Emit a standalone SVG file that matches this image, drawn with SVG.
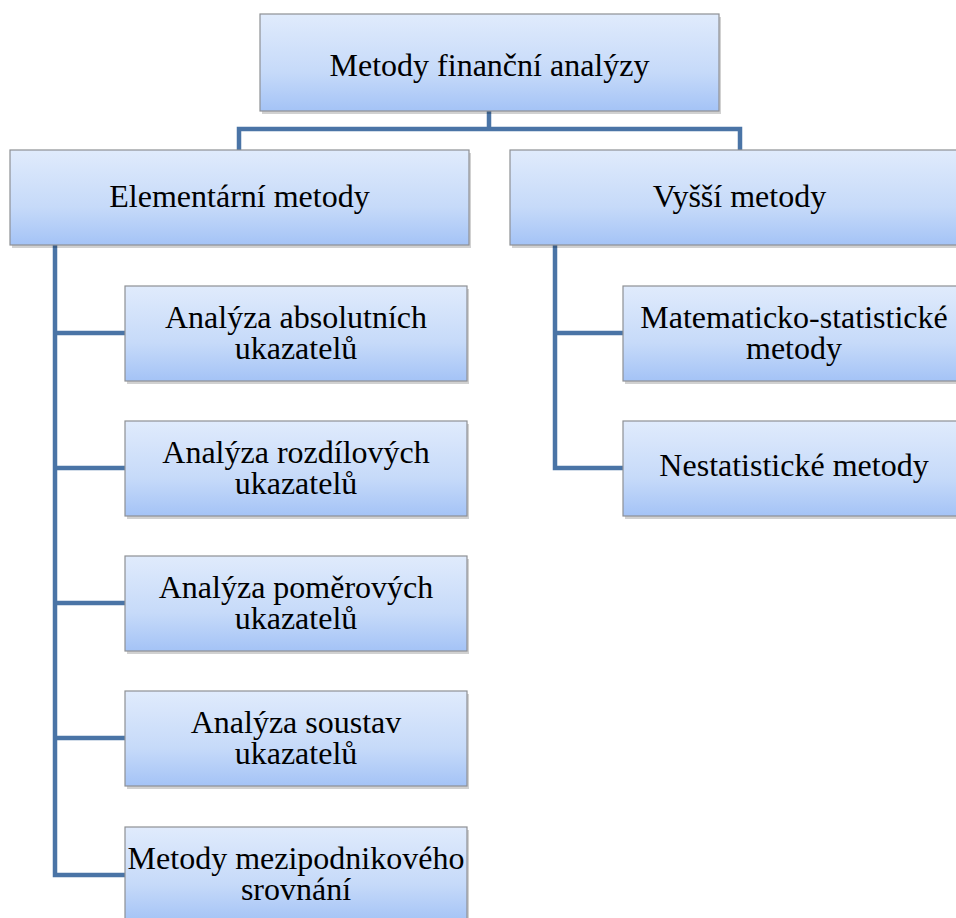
<svg xmlns="http://www.w3.org/2000/svg" width="956" height="918" viewBox="0 0 956 918">
<defs>
<linearGradient id="g" x1="0" y1="0" x2="0" y2="1">
<stop offset="0" stop-color="#e0ebfc"/>
<stop offset="0.6" stop-color="#c6daf9"/>
<stop offset="1" stop-color="#a4c3f6"/>
</linearGradient>
</defs>
<g id="connectors" fill="none" stroke="#4a74a6" stroke-width="4.5">
<path d="M489,111 V129 M239,150 V129 H740 V150"/>
<path d="M55,245 V875 H125 M55,333 H125 M55,468 H125 M55,603 H125 M55,738 H125"/>
<path d="M555,245 V468 H623 M555,333 H623"/>
</g>
<g id="shadows" fill="#000" fill-opacity="0.18">
<rect x="262" y="17" width="459" height="97"/>
<rect x="12" y="153" width="459" height="95"/>
<rect x="512" y="153" width="459" height="95"/>
<rect x="127" y="289" width="342" height="95"/>
<rect x="127" y="424" width="342" height="95"/>
<rect x="127" y="559" width="342" height="95"/>
<rect x="127" y="694" width="342" height="95"/>
<rect x="127" y="830" width="342" height="95"/>
<rect x="625" y="289" width="342" height="95"/>
<rect x="625" y="424" width="342" height="95"/>
</g>
<g id="nodes" style="font-family:'Liberation Serif','Times New Roman',serif" font-size="32" text-anchor="middle">
<g id="n0"><rect fill="url(#g)" stroke="#8e9094" stroke-width="1.2" x="260" y="14" width="459" height="97"/><text x="489.5" y="76">Metody finanční analýzy</text></g>
<g id="n1"><rect fill="url(#g)" stroke="#8e9094" stroke-width="1.2" x="10" y="150" width="459" height="95"/><text x="239.5" y="207">Elementární metody</text></g>
<g id="n2"><rect fill="url(#g)" stroke="#8e9094" stroke-width="1.2" x="510" y="150" width="459" height="95"/><text x="739.5" y="207">Vyšší metody</text></g>
<g id="n3"><rect fill="url(#g)" stroke="#8e9094" stroke-width="1.2" x="125" y="286" width="342" height="95"/><text x="296" y="328">Analýza absolutních</text><text x="296" y="359">ukazatelů</text></g>
<g id="n4"><rect fill="url(#g)" stroke="#8e9094" stroke-width="1.2" x="125" y="421" width="342" height="95"/><text x="296" y="463">Analýza rozdílových</text><text x="296" y="494">ukazatelů</text></g>
<g id="n5"><rect fill="url(#g)" stroke="#8e9094" stroke-width="1.2" x="125" y="556" width="342" height="95"/><text x="296" y="598">Analýza poměrových</text><text x="296" y="629">ukazatelů</text></g>
<g id="n6"><rect fill="url(#g)" stroke="#8e9094" stroke-width="1.2" x="125" y="691" width="342" height="95"/><text x="296" y="733">Analýza soustav</text><text x="296" y="764">ukazatelů</text></g>
<g id="n7"><rect fill="url(#g)" stroke="#8e9094" stroke-width="1.2" x="125" y="827" width="342" height="95"/><text x="296" y="869">Metody mezipodnikového</text><text x="296" y="900">srovnání</text></g>
<g id="n8"><rect fill="url(#g)" stroke="#8e9094" stroke-width="1.2" x="623" y="286" width="342" height="95"/><text x="794" y="328">Matematicko-statistické</text><text x="794" y="359">metody</text></g>
<g id="n9"><rect fill="url(#g)" stroke="#8e9094" stroke-width="1.2" x="623" y="421" width="342" height="95"/><text x="794" y="476">Nestatistické metody</text></g>
</g>
</svg>
